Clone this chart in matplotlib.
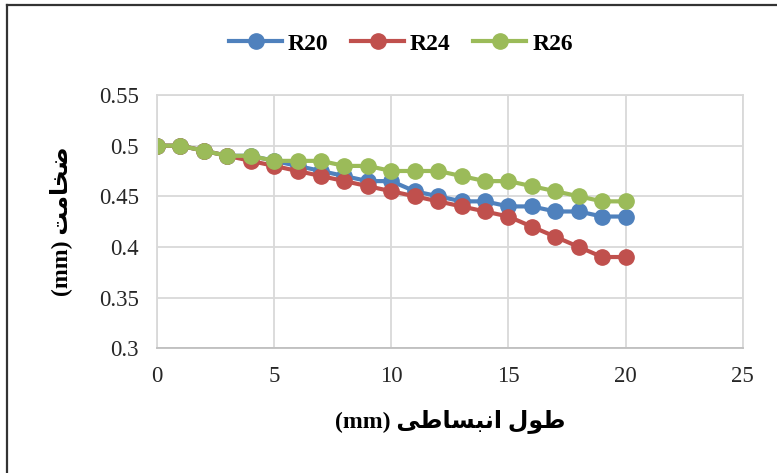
import matplotlib
matplotlib.use("Agg")
import matplotlib.pyplot as plt
from matplotlib.lines import Line2D

# data
x = list(range(21))
r20 = [0.5, 0.5, 0.495, 0.49, 0.49, 0.485, 0.48, 0.475, 0.47, 0.465, 0.465,
       0.455, 0.45, 0.445, 0.445, 0.44, 0.44, 0.435, 0.435, 0.43, 0.43]
r24 = [0.5, 0.5, 0.495, 0.49, 0.485, 0.48, 0.475, 0.47, 0.465, 0.46, 0.455,
       0.45, 0.445, 0.44, 0.435, 0.43, 0.42, 0.41, 0.40, 0.39, 0.39]
r26 = [0.5, 0.5, 0.495, 0.49, 0.49, 0.485, 0.485, 0.485, 0.48, 0.48, 0.475,
       0.475, 0.475, 0.47, 0.465, 0.465, 0.46, 0.455, 0.45, 0.445, 0.445]
series_names = ["R20", "R24", "R26"]
colors = ["#4f81bd", "#c0504d", "#9bbb59"]
xticks = [0, 5, 10, 15, 20, 25]
yticks = [0.3, 0.35, 0.4, 0.45, 0.5, 0.55]
ytick_labels = ["0.3", "0.35", "0.4", "0.45", "0.5", "0.55"]

# Persian labels in visual order with presentation forms (no shaping in matplotlib)
ylab = "(mm) " + "\uFE96\uFEE3\uFE8E\uFEA8\uFEBF"           # ضخامت (mm)
xlab = "(mm) " + "\uFBFD\uFEC3\uFE8E\uFEB4\uFE92\uFEE7\uFE8D" + " " + "\uFEDD\uFEEE\uFEC3"  # طول انبساطی (mm)

fams = ["Liberation Serif", "DejaVu Sans"]

fig = plt.figure(figsize=(7.77, 4.73), dpi=100)
ax = fig.add_axes([0.202, 0.264, 0.754, 0.535])

for ys, name, c in zip([r20, r24, r26], series_names, colors):
    ax.plot(x, ys, color=c, lw=3, marker="o", markersize=11, label=name)

ax.set_xlim(0, 25)
ax.set_ylim(0.3, 0.55)
ax.set_xticks(xticks)
ax.set_yticks(yticks)
ax.set_yticklabels(ytick_labels)
ax.grid(True, color="#d9d9d9", lw=1.3)
ax.set_axisbelow(True)
for s in ax.spines.values():
    s.set_color("#d9d9d9")
    s.set_linewidth(1.3)
ax.spines["bottom"].set_color("#bfbfbf")
ax.tick_params(length=0, pad=13, labelsize=16.5)
for lab in ax.get_xticklabels() + ax.get_yticklabels():
    lab.set_family("Liberation Serif")
    lab.set_color("#262626")

ax.set_xlabel(xlab, family=fams, fontsize=17, fontweight="bold", labelpad=16)
ax.set_ylabel(ylab, family=fams, fontsize=17, fontweight="bold", labelpad=19)

leg = ax.legend(loc="center", bbox_to_anchor=(0.516, 0.907),
                bbox_transform=fig.transFigure, ncol=3, frameon=False,
                prop={"family": "Liberation Serif", "weight": "bold", "size": 17},
                handlelength=2.25, columnspacing=0.95, handletextpad=0.25,
                borderaxespad=0, borderpad=0)

# outer frame (only left and top edges show in the reference)
fig.add_artist(Line2D([0.0095, 0.0095], [0.0, 0.989], color="#333333", lw=1.6,
                      transform=fig.transFigure))
fig.add_artist(Line2D([0.0085, 1.0], [0.989, 0.989], color="#333333", lw=1.6,
                      transform=fig.transFigure))

fig.savefig("out.png", dpi=100)
